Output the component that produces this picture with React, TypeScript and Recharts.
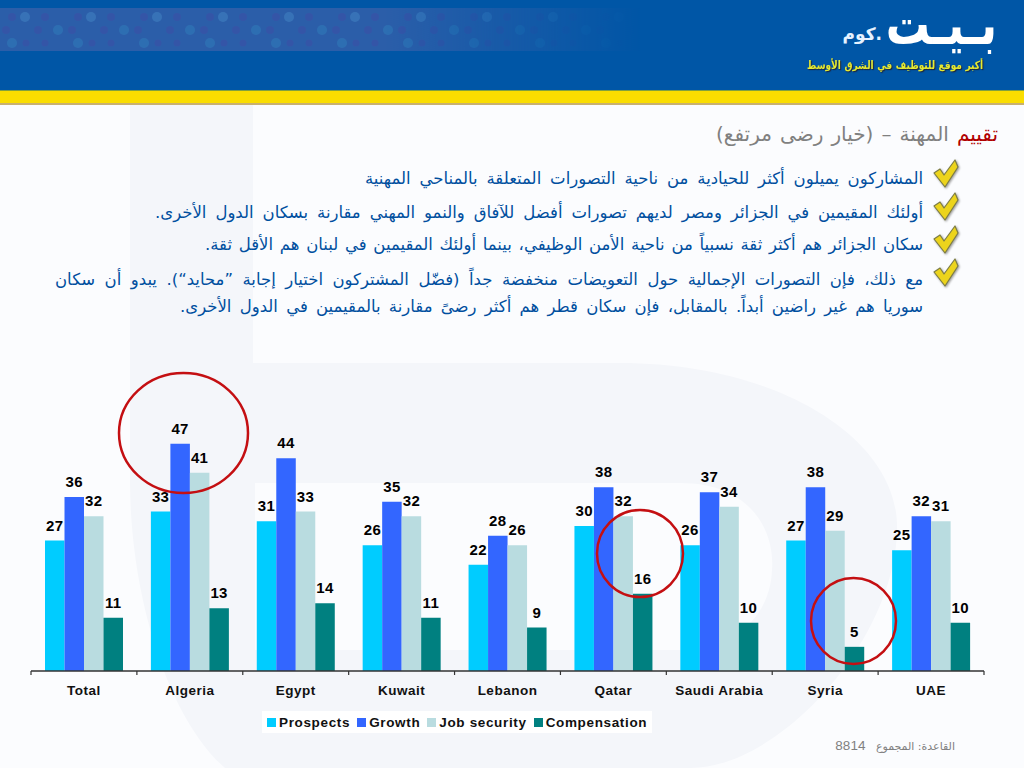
import { Bar, BarChart, LabelList, Legend, XAxis, YAxis } from "recharts";

const countries = ["Total", "Algeria", "Egypt", "Kuwait", "Lebanon", "Qatar", "Saudi Arabia", "Syria", "UAE"];
const prospects = [27, 33, 31, 26, 22, 30, 26, 27, 25];
const growth = [36, 47, 44, 35, 28, 38, 37, 38, 32];
const jobSecurity = [32, 41, 33, 32, 26, 32, 34, 29, 31];
const compensation = [11, 13, 14, 11, 9, 16, 10, 5, 10];

const bullets = [
  "المشاركون يميلون أكثر للحيادية من ناحية التصورات المتعلقة بالمناحي المهنية",
  "أولئك المقيمين في الجزائر ومصر لديهم تصورات أفضل للآفاق والنمو المهني مقارنة بسكان الدول الأخرى.",
  "سكان الجزائر هم أكثر ثقة نسبياً من ناحية الأمن الوظيفي، بينما أولئك المقيمين في لبنان هم الأقل ثقة.",
  "مع ذلك، فإن التصورات الإجمالية حول التعويضات منخفضة جداً (فضّل المشتركون اختيار إجابة ”محايد“). يبدو أن سكان",
  "سوريا هم غير راضين أبداً. بالمقابل، فإن سكان قطر هم أكثر رضىً مقارنة بالمقيمين في الدول الأخرى.",
];
const bulletTops = [168, 202, 234, 269, 296];
const bulletWidths = [558, 768, 718, 868, 743];
const checkTops = [160, 193, 226, 259];

const data = countries.map((name, i) => ({
  name,
  prospects: prospects[i],
  growth: growth[i],
  jobSecurity: jobSecurity[i],
  compensation: compensation[i],
}));

const PLOT_LEFT = 31;
const PLOT_WIDTH = 953;
const BAND = PLOT_WIDTH / countries.length;
const sans = "'Liberation Sans', Arial, sans-serif";
const arabic = "'DejaVu Sans', sans-serif";

function CountryTick({ x, y, payload, index }: any) {
  const left = x - BAND / 2;
  return (
    <g>
      <line x1={left} x2={left} y1={y} y2={y + 4} stroke="#333" strokeWidth={1.2} />
      {index === countries.length - 1 && (
        <line x1={left + BAND} x2={left + BAND} y1={y} y2={y + 4} stroke="#333" strokeWidth={1.2} />
      )}
      <text x={x} y={y + 24} textAnchor="middle" fontFamily={sans} fontWeight={700} fontSize={13.5} letterSpacing={0.5} fill="#111">
        {payload.value}
      </text>
    </g>
  );
}

function LegendRow({ payload }: any) {
  return (
    <div style={{ display: "flex", alignItems: "center", height: 22, paddingLeft: 5, whiteSpace: "nowrap" }}>
      {(payload ?? []).map((item: any) => (
        <span key={item.value} style={{ display: "flex", alignItems: "center", marginRight: 7 }}>
          <span style={{ width: 9, height: 9, background: item.color, marginRight: 3 }} />
          <span style={{ color: "#111" }}>{item.value}</span>
        </span>
      ))}
    </div>
  );
}

function Backdrop() {
  return (
    <svg width={1024} height={768} style={{ position: "absolute", left: 0, top: 0 }}>
      <defs>
        <pattern id="dots" x="0" y="8" width="66" height="43" patternUnits="userSpaceOnUse">
          <circle cx="12" cy="9" r="4" fill="#3a4fa6" />
          <circle cx="25" cy="9" r="5" fill="#3f7fc0" />
          <circle cx="45" cy="9" r="4" fill="#3a4fa6" />
          <circle cx="6" cy="22" r="4" fill="#3a4fa6" />
          <circle cx="38" cy="22" r="4" fill="#3a4fa6" />
          <circle cx="58" cy="22" r="5" fill="#2f79b8" />
          <circle cx="12" cy="35" r="5" fill="#2f79b8" />
          <circle cx="26" cy="35" r="3.5" fill="#3a4fa6" />
          <circle cx="45" cy="35" r="3.5" fill="#3a4fa6" />
        </pattern>
        <linearGradient id="bandFade" x1="0" y1="0" x2="1" y2="0">
          <stop offset="0.6" stopColor="#fff" />
          <stop offset="1" stopColor="#000" />
        </linearGradient>
        <mask id="bandMask">
          <rect x="0" y="8" width="640" height="43" fill="url(#bandFade)" />
        </mask>
      </defs>
      <rect width={1024} height={768} fill="#fbfcfe" />
      <path
        d="M130 105 H253 V363 H620 C780 363 900 440 897 530 C895 640 780 768 690 768 H225 C170 720 130 600 130 480 Z"
        fill="#f4f6fa"
      />
      <path d="M255 483 H680 C750 483 775 530 772 570 C770 620 730 650 680 650 H255 Z" fill="#fbfcfe" />
      <rect width={1024} height={91} fill="#0056a6" />
      <g mask="url(#bandMask)">
        <rect x="0" y="8" width="640" height="43" fill="#2b5ea9" />
        <rect x="0" y="8" width="640" height="43" fill="url(#dots)" opacity={0.6} />
      </g>
      <rect y={90} width={1024} height={1} fill="#7fa040" />
      <rect y={91} width={1024} height={12} fill="#fadd00" />
      <rect y={103} width={1024} height={2} fill="#c8b070" />
    </svg>
  );
}

function Header() {
  return (
    <>
      <div dir="rtl" style={{ position: "absolute", right: 27, top: 10, fontFamily: arabic, fontWeight: 700, fontSize: 44, lineHeight: "30px", color: "#fff", whiteSpace: "nowrap", transform: "scaleY(1.28)", transformOrigin: "50% 50%" }}>
        بـيـت
      </div>
      <div dir="rtl" style={{ position: "absolute", right: 142, top: 23, fontFamily: arabic, fontWeight: 700, fontSize: 17, lineHeight: "22px", color: "#e6f2ff", whiteSpace: "nowrap" }}>
        .كوم
      </div>
      <div dir="rtl" style={{ position: "absolute", right: 41, top: 58, width: 176, textAlignLast: "justify", fontFamily: arabic, fontWeight: 700, fontSize: 9, lineHeight: "14px", color: "#e6ea30", textShadow: "1px 1px 1px #223", whiteSpace: "nowrap", transform: "scaleY(1.25)" }}>
        أكبر موقع للتوظيف في الشرق الأوسط
      </div>
      <div dir="rtl" style={{ position: "absolute", right: 26, top: 120, width: 282, textAlignLast: "justify", fontFamily: arabic, fontSize: 20, lineHeight: "28px", color: "#808080", whiteSpace: "nowrap" }}>
        <span style={{ color: "#b00000" }}>تقييم</span> المهنة – (خيار رضى مرتفع)
      </div>
    </>
  );
}

function Bullets() {
  return (
    <>
      {bullets.map((line, i) => (
        <div
          key={i}
          dir="rtl"
          style={{
            position: "absolute",
            right: 101,
            top: bulletTops[i],
            width: bulletWidths[i],
            textAlignLast: "justify",
            fontFamily: arabic,
            fontSize: 16.5,
            lineHeight: "22px",
            color: "#004f9f",
            whiteSpace: "nowrap",
          }}
        >
          {line}
        </div>
      ))}
      <svg width={1024} height={320} style={{ position: "absolute", left: 0, top: 0 }}>
        {checkTops.map((top) => (
          <path
            key={top}
            transform={`translate(934 ${top})`}
            d="M0 13 L6 9 L10 15 L21 0 L24 7 L11 27 Z"
            fill="#ecd41c"
            stroke="#7d7d45"
            strokeWidth={1.2}
            strokeLinejoin="round"
            style={{ filter: "drop-shadow(1px 1px 1px #999)" }}
          />
        ))}
      </svg>
    </>
  );
}

function Annotations() {
  return (
    <svg width={1024} height={768} style={{ position: "absolute", left: 0, top: 0, pointerEvents: "none" }}>
      <g fill="none" stroke="#c40f12" strokeWidth={2.5}>
        <ellipse cx={183.5} cy={433} rx={64.5} ry={60} />
        <ellipse cx={640} cy={553.5} rx={43} ry={43.5} />
        <ellipse cx={853.5} cy={621} rx={42.5} ry={43} />
      </g>
    </svg>
  );
}

const valueLabel = { position: "top" as const, offset: 10, fontFamily: sans, fontWeight: 700, fontSize: 15, letterSpacing: 0.4, fill: "#000" };

export default function App() {
  return (
    <div style={{ position: "absolute", left: 0, top: 0, width: 1024, height: 768, overflow: "hidden" }}>
      <Backdrop />
      <Header />
      <Bullets />
      <div style={{ position: "absolute", left: 0, top: 0 }}>
        <BarChart
          width={1024}
          height={768}
          data={data}
          margin={{ top: 381, right: 1024 - PLOT_LEFT - PLOT_WIDTH, bottom: 67, left: PLOT_LEFT }}
          barSize={19.5}
          barGap={0}
        >
          <XAxis
            dataKey="name"
            height={30}
            interval={0}
            axisLine={{ stroke: "#333", strokeWidth: 1.5 }}
            tickLine={false}
            tickSize={0}
            tickMargin={0}
            tick={CountryTick}
          />
          <YAxis hide domain={[0, 60]} />
          <Legend
            layout="horizontal"
            verticalAlign="middle"
            align="center"
            itemSorter={null}
            content={LegendRow}
            wrapperStyle={{ left: 262, top: 711, width: 390, height: 22, background: "#fff", fontFamily: sans, fontWeight: 700, fontSize: 13.5, letterSpacing: 0.65 }}
          />
          <Bar dataKey="prospects" name="Prospects" fill="#00ccff" isAnimationActive={false}>
            <LabelList dataKey="prospects" {...valueLabel} />
          </Bar>
          <Bar dataKey="growth" name="Growth" fill="#3366ff" isAnimationActive={false}>
            <LabelList dataKey="growth" {...valueLabel} />
          </Bar>
          <Bar dataKey="jobSecurity" name="Job security" fill="#b9dce0" isAnimationActive={false}>
            <LabelList dataKey="jobSecurity" {...valueLabel} />
          </Bar>
          <Bar dataKey="compensation" name="Compensation" fill="#008080" isAnimationActive={false}>
            <LabelList dataKey="compensation" {...valueLabel} />
          </Bar>
        </BarChart>
      </div>
      <Annotations />
      <div dir="rtl" style={{ position: "absolute", right: 69, top: 738, fontFamily: arabic, fontSize: 11, color: "#808080", whiteSpace: "nowrap" }}>
        القاعدة: المجموع&nbsp;&nbsp;&nbsp;<span style={{ fontFamily: sans, fontSize: 13.5 }}>8814</span>
      </div>
    </div>
  );
}
